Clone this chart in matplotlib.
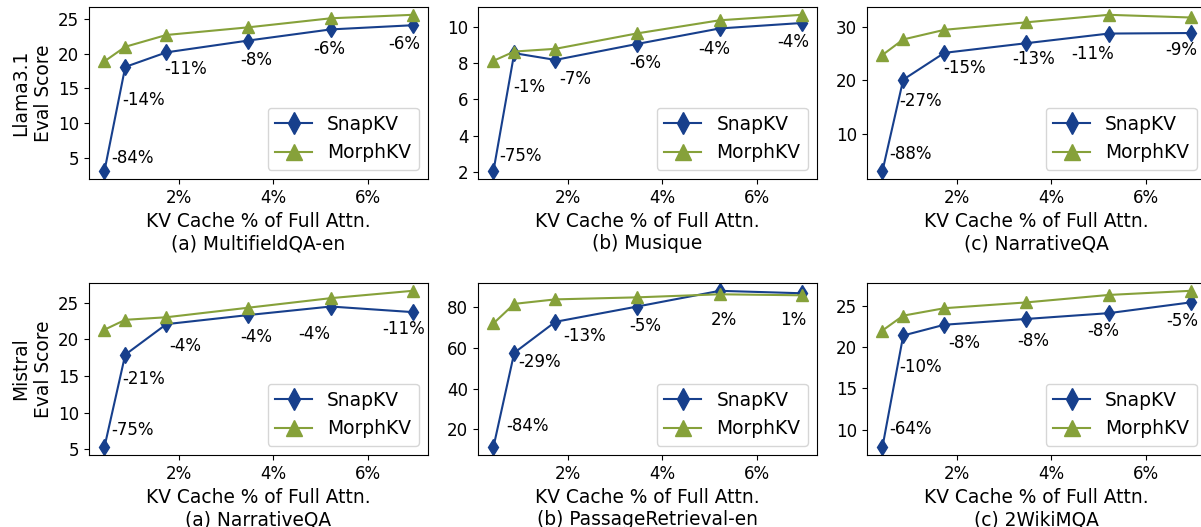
#!/usr/bin/env python
"""SnapKV vs MorphKV eval score across KV cache budgets (Llama3.1 / Mistral)."""

import matplotlib

matplotlib.use("Agg")
import matplotlib.pyplot as plt
from matplotlib.ticker import FuncFormatter, MultipleLocator

# KV cache size as % of full attention (same budgets for every task)
kv_pct = [0.43, 0.87, 1.74, 3.47, 5.21, 6.94]

row_models = ["Llama3.1", "Mistral"]
task_names = [
    ["(a) MultifieldQA-en", "(b) Musique", "(c) NarrativeQA"],
    ["(a) NarrativeQA", "(b) PassageRetrieval-en", "(c) 2WikiMQA"],
]

# Llama3.1
snapkv_llama_mfqa = [3.1, 18.1, 20.2, 21.9, 23.5, 24.1]
morphkv_llama_mfqa = [18.9, 21.0, 22.7, 23.8, 25.1, 25.6]
snapkv_llama_musique = [2.05, 8.54, 8.17, 9.05, 9.9, 10.2]
morphkv_llama_musique = [8.12, 8.63, 8.78, 9.63, 10.35, 10.65]
snapkv_llama_nqa = [3.0, 20.1, 25.1, 26.9, 28.7, 28.8]
morphkv_llama_nqa = [24.7, 27.6, 29.4, 30.8, 32.2, 31.7]

# Mistral
snapkv_mistral_nqa = [5.3, 17.9, 22.06, 23.3, 24.46, 23.7]
morphkv_mistral_nqa = [21.3, 22.65, 23.0, 24.3, 25.6, 26.6]
snapkv_mistral_pre = [11.3, 57.6, 72.8, 80.3, 88.0, 86.8]
morphkv_mistral_pre = [72.0, 81.6, 83.8, 84.8, 86.3, 85.8]
snapkv_mistral_2wiki = [7.9, 21.4, 22.7, 23.4, 24.1, 25.4]
morphkv_mistral_2wiki = [22.0, 23.8, 24.7, 25.4, 26.3, 26.8]

# SnapKV change relative to MorphKV, as printed on the chart
labels_llama_mfqa = ["-84%", "-14%", "-11%", "-8%", "-6%", "-6%"]
labels_llama_musique = ["-75%", "-1%", "-7%", "-6%", "-4%", "-4%"]
labels_llama_nqa = ["-88%", "-27%", "-15%", "-13%", "-11%", "-9%"]
labels_mistral_nqa = ["-75%", "-21%", "-4%", "-4%", "-4%", "-11%"]
labels_mistral_pre = ["-84%", "-29%", "-13%", "-5%", "2%", "1%"]
labels_mistral_2wiki = ["-64%", "-10%", "-8%", "-8%", "-8%", "-5%"]


def main():
    snap = [
        [snapkv_llama_mfqa, snapkv_llama_musique, snapkv_llama_nqa],
        [snapkv_mistral_nqa, snapkv_mistral_pre, snapkv_mistral_2wiki],
    ]
    morph = [
        [morphkv_llama_mfqa, morphkv_llama_musique, morphkv_llama_nqa],
        [morphkv_mistral_nqa, morphkv_mistral_pre, morphkv_mistral_2wiki],
    ]
    labels = [
        [labels_llama_mfqa, labels_llama_musique, labels_llama_nqa],
        [labels_mistral_nqa, labels_mistral_pre, labels_mistral_2wiki],
    ]

    # hand placement of the % labels (pixel offsets from each SnapKV marker)
    offsets = [
        [
            [(7, 13), (-3, -33), (-2, -17), (-8, -19), (-17, -20), (-24, -19)],
            [(6, 15), (-1, -34), (4, -19), (-8, -19), (-21, -21), (-24, -19)],
            [(7, 17), (-4, -21), (-1, -15), (-14, -16), (-37, -20), (-25, -17)],
        ],
        [
            [(7, 17), (-3, -24), (3, -22), (-8, -22), (-32, -27), (-30, -17)],
            [(13, 21), (4, -9), (8, -14), (-8, -19), (-9, -29), (-21, -27)],
            [(7, 18), (-4, -32), (4, -18), (-9, -22), (-21, -18), (-24, -19)],
        ],
    ]
    ytick_steps = [[5, 2, 10], [5, 20, 5]]

    snap_color = "#173f8c"
    morph_color = "#86a13a"

    W, H = 1201, 527
    fig = plt.figure(figsize=(W / 100, H / 100), dpi=100)
    col_left = [89, 478, 867]
    row_top = [7, 283]
    ax_w, ax_h = 339, 172

    for r in range(2):
        for c in range(3):
            ax = fig.add_axes(
                [
                    col_left[c] / W,
                    (H - row_top[r] - ax_h) / H,
                    ax_w / W,
                    ax_h / H,
                ]
            )
            ax.plot(
                kv_pct,
                snap[r][c],
                color=snap_color,
                marker="d",
                markersize=8,
                linewidth=1.5,
                label="SnapKV",
            )
            ax.plot(
                kv_pct,
                morph[r][c],
                color=morph_color,
                marker="^",
                markersize=9,
                linewidth=1.5,
                label="MorphKV",
            )
            for x, y, txt, off in zip(kv_pct, snap[r][c], labels[r][c], offsets[r][c]):
                ax.annotate(
                    txt,
                    (x, y),
                    xytext=off,
                    textcoords="offset pixels",
                    ha="left",
                    va="center",
                    fontsize=12,
                )

            ax.set_xticks([2, 4, 6])
            ax.xaxis.set_major_formatter(FuncFormatter(lambda v, _: f"{v:.0f}%"))
            ax.yaxis.set_major_locator(MultipleLocator(ytick_steps[r][c]))
            ax.tick_params(labelsize=12)
            ax.set_xlabel("KV Cache % of Full Attn.\n" + task_names[r][c], fontsize=13.4)
            if c == 0:
                ax.set_ylabel(row_models[r] + "\nEval Score", fontsize=13.4)
            ax.legend(loc="lower right", fontsize=13.4, markerscale=1.35)

    fig.savefig("out.png", dpi=100)
    plt.close(fig)


if __name__ == "__main__":
    main()
